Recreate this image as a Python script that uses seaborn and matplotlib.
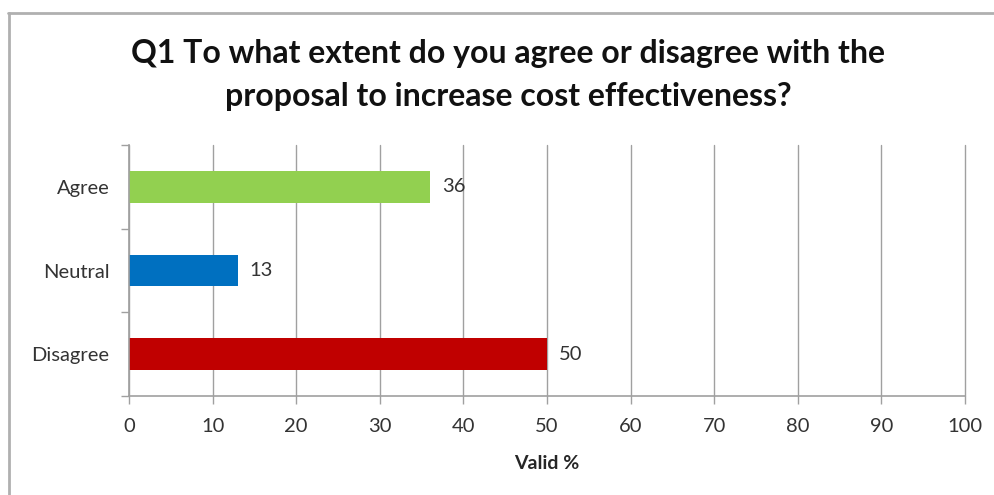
import matplotlib
matplotlib.use("Agg")
import matplotlib.pyplot as plt
import seaborn as sns
import pandas as pd
from matplotlib.lines import Line2D
from matplotlib.ticker import FixedLocator

categories = ["Agree", "Neutral", "Disagree"]
values = [36, 13, 50]
colors = ["#92D050", "#0070C0", "#C00000"]
x_ticks = [0, 10, 20, 30, 40, 50, 60, 70, 80, 90, 100]
title = "Q1 To what extent do you agree or disagree with the\nproposal to increase cost effectiveness?"
xlabel = "Valid %"

sns.set_theme(style="white")
plt.rcParams["font.family"] = ["Lato", "DejaVu Sans"]

df = pd.DataFrame({"cat": categories, "val": values})

fig = plt.figure(figsize=(9.94, 4.95), dpi=100)
ax = fig.add_axes([0.1298, 0.2, 0.8410, 0.507])

sns.barplot(data=df, x="val", y="cat", hue="cat", palette=colors,
            order=categories, hue_order=categories, legend=False,
            width=0.38, ax=ax, saturation=1, linewidth=0)

ax.set_xlim(0, 100)
ax.set_ylim(2.5, -0.5)
ax.set_xticks(x_ticks)
ax.set_xticklabels([str(t) for t in x_ticks], fontsize=14.5, color="#333333")
ax.tick_params(axis="x", bottom=True, direction="out", length=6, width=1, color="#A0A0A0", pad=10)
ax.tick_params(axis="y", which="major", left=False, length=0, pad=14, labelsize=14.5, labelcolor="#333333")
ax.yaxis.set_minor_locator(FixedLocator([-0.5, 0.5, 1.5, 2.5]))
ax.tick_params(axis="y", which="minor", left=True, direction="out", length=6, width=1, color="#A0A0A0")

ax.grid(axis="x", color="#A0A0A0", linewidth=1)
for gl in ax.get_xgridlines():
    gl.set_clip_on(False)
ax.set_axisbelow(True)
for s in ["top", "right"]:
    ax.spines[s].set_visible(False)
for s in ["left", "bottom"]:
    ax.spines[s].set_color("#A0A0A0")
    ax.spines[s].set_linewidth(1.2)

ax.set_ylabel("")
ax.set_xlabel(xlabel, fontsize=14, fontweight="bold", labelpad=14)

for i, v in enumerate(values):
    ax.text(v + 1.4, i, str(v), va="center", ha="left", fontsize=14.5, color="#333333")

fig.text(0.511, 0.848, title, ha="center", va="center", fontsize=23,
         fontweight="bold", linespacing=1.6, color="#111111")

# outer frame lines
fig.add_artist(Line2D([8/994, 1.0], [1-13/495, 1-13/495], color="#B0B0B0", linewidth=2,
                      transform=fig.transFigure))
fig.add_artist(Line2D([9/994, 9/994], [1-13/495, 0], color="#B0B0B0", linewidth=2,
                      transform=fig.transFigure))

fig.savefig("out.png", dpi=100)
